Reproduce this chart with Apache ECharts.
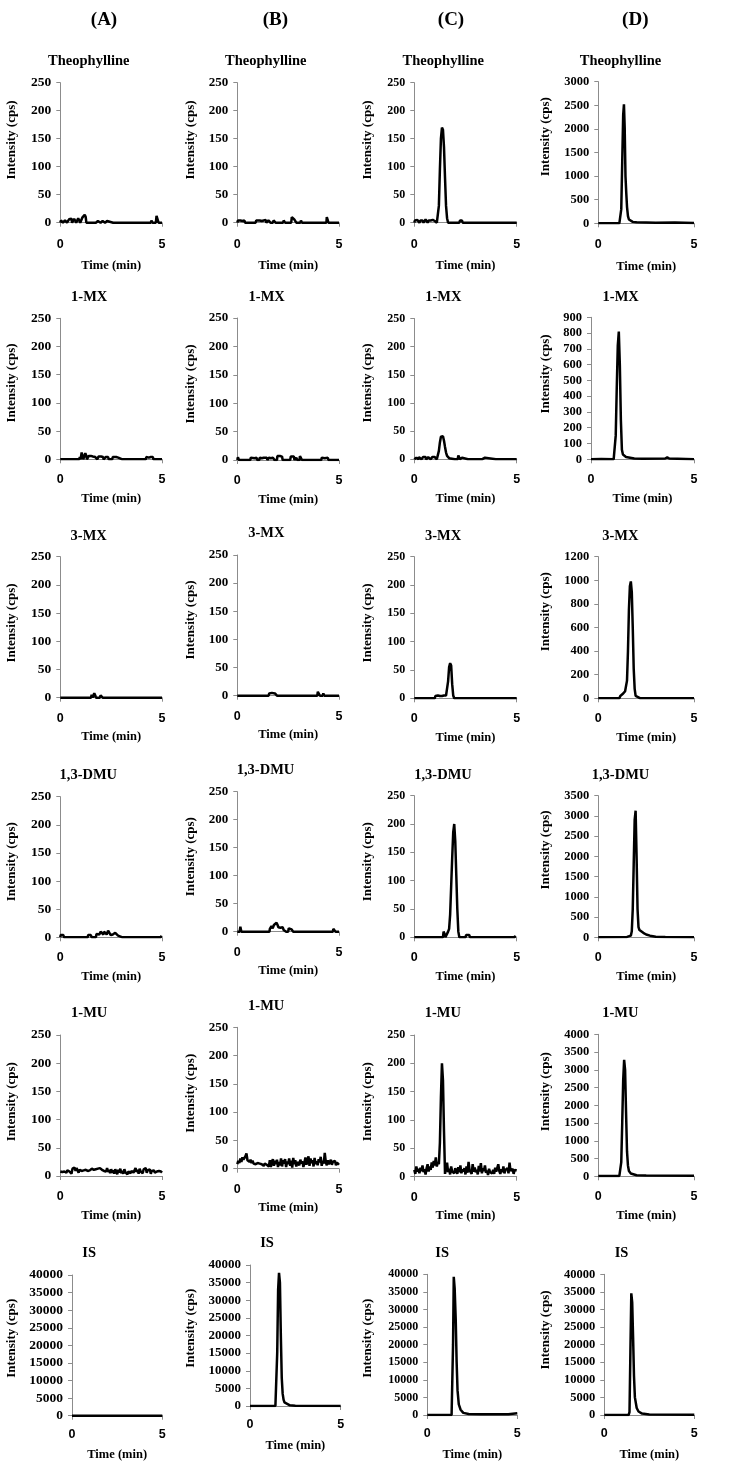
<!DOCTYPE html>
<html><head><meta charset="utf-8">
<script src="https://cdn.jsdelivr.net/npm/echarts/dist/echarts.min.js"></script>
<style>html,body{margin:0;padding:0;background:#fff}#c{width:735px;height:1472px}</style>
</head><body><div id="c"></div>
<script>
// ---------------- DATA ----------------
const COLUMN_LABELS = ['(A)', '(B)', '(C)', '(D)'];
const ROW_TITLES = ['Theophylline', '1-MX', '3-MX', '1,3-DMU', '1-MU', 'IS'];
const X_NAME = 'Time (min)';
const Y_NAME = 'Intensity (cps)';
const X_MIN = 0, X_MAX = 5, X_STEP = 5;
const Y_MAX = [
  [250, 250, 250, 3000],
  [250, 250, 250, 900],
  [250, 250, 250, 1200],
  [250, 250, 250, 3500],
  [250, 250, 250, 4000],
  [40000, 40000, 40000, 40000]
];
const Y_STEP = [
  [50, 50, 50, 500],
  [50, 50, 50, 100],
  [50, 50, 50, 200],
  [50, 50, 50, 500],
  [50, 50, 50, 500],
  [5000, 5000, 5000, 5000]
];

// Theophylline
const A_THEO = [[0,0],[0.03,4],[0.1,4],[0.13,0],[0.2,0],[0.23,4],[0.3,5],[0.33,0],[0.4,0],[0.43,6],[0.5,5],[0.55,7],[0.58,0],[0.65,0],[0.68,7],[0.75,6],[0.78,0],[0.85,0],[0.88,8],[0.95,6],[0.98,0],[1.05,0],[1.08,9],[1.15,12],[1.2,14],[1.25,10],[1.28,0],[1.75,0],[1.78,3],[1.85,3],[1.88,0],[1.98,0],[2.0,3],[2.08,3],[2.1,0],[2.2,0],[2.23,3],[2.3,3],[2.33,0],[2.6,0],[2.63,3],[2.7,0],[3.15,0],[3.18,3],[3.23,0],[3.7,0],[3.73,3],[3.78,0],[3.9,0],[3.93,3],[3.98,0],[4.12,0],[4.15,3],[4.2,0],[4.45,0],[4.48,4],[4.53,0],[4.7,0],[4.73,12],[4.8,9],[4.83,0],[5,0]];
const B_THEO = [[0,0],[0.03,4],[0.12,3],[0.15,4],[0.25,3],[0.35,4],[0.38,0],[0.9,0],[0.93,4],[1.1,4],[1.2,3],[1.3,4],[1.4,5],[1.43,0],[1.5,0],[1.53,4],[1.6,3],[1.63,0],[1.75,0],[1.78,4],[1.85,3],[1.88,0],[2.0,0],[2.03,3],[2.08,0],[2.25,0],[2.28,4],[2.35,0],[2.65,0],[2.68,10],[2.75,8],[2.8,6],[2.85,5],[2.9,0],[3.1,0],[3.13,4],[3.18,0],[3.45,0],[3.48,3],[3.53,0],[3.75,0],[3.78,3],[3.83,0],[4.38,0],[4.4,10],[4.45,4],[4.48,0],[5,0]];
const C_THEO = [[0,0],[0.03,4],[0.1,3],[0.15,5],[0.2,3],[0.25,0],[0.3,4],[0.4,4],[0.45,0],[0.5,3],[0.55,6],[0.6,5],[0.65,0],[0.7,4],[0.8,4],[0.85,3],[0.9,5],[0.95,4],[1.0,3],[1.05,4],[1.1,0],[1.15,2],[1.2,30],[1.25,95],[1.3,150],[1.35,170],[1.4,166],[1.45,135],[1.5,80],[1.55,30],[1.6,8],[1.65,0],[1.95,0],[1.98,3],[2.03,0],[2.2,0],[2.23,4],[2.33,4],[2.36,0],[3.42,0],[3.45,3],[3.5,0],[4.2,0],[4.23,3],[4.28,0],[4.68,0],[4.7,3],[4.75,0],[4.88,0],[4.9,3],[4.95,0],[5,0]];
const D_THEO = [[0,0],[1.1,0],[1.15,20],[1.2,300],[1.25,1300],[1.3,2300],[1.34,2520],[1.38,2000],[1.42,1000],[1.46,650],[1.5,350],[1.55,150],[1.6,80],[1.7,50],[1.8,30],[2.0,20],[2.5,15],[3.0,10],[4.0,15],[5,5]];

// 1-MX
const A_1MX = [[0,0],[0.23,0],[0.26,3],[0.31,0],[0.44,0],[0.47,3],[0.52,0],[0.6,0],[0.63,3],[0.68,0],[0.8,0],[0.83,3],[0.88,0],[0.93,0],[0.96,4],[1.0,0],[1.03,0],[1.05,12],[1.1,10],[1.13,0],[1.18,0],[1.2,3],[1.23,11],[1.28,6],[1.31,0],[1.38,0],[1.4,6],[1.45,4],[1.5,6],[1.55,8],[1.6,5],[1.67,6],[1.72,4],[1.78,6],[1.82,0],[1.86,0],[1.88,5],[1.95,4],[2.0,5],[2.1,4],[2.13,0],[2.2,0],[2.23,4],[2.3,3],[2.35,4],[2.38,0],[2.55,0],[2.58,4],[2.65,3],[2.75,4],[2.85,3],[2.9,4],[2.93,0],[3.05,0],[3.08,3],[3.13,0],[3.3,0],[3.33,3],[3.38,0],[3.48,0],[3.5,3],[3.55,0],[3.72,0],[3.75,3],[3.8,0],[4.2,0],[4.23,4],[4.35,3],[4.45,4],[4.55,4],[4.58,0],[5,0]];
const B_1MX = [[0,0],[0.03,5],[0.08,0],[0.64,0],[0.66,4],[0.75,4],[0.85,3],[0.95,4],[0.98,0],[1.08,0],[1.1,4],[1.2,3],[1.3,4],[1.45,4],[1.48,0],[1.52,0],[1.55,4],[1.65,3],[1.75,4],[1.8,3],[1.83,0],[1.95,0],[1.97,7],[2.1,7],[2.2,6],[2.23,0],[2.6,0],[2.63,6],[2.7,4],[2.78,6],[2.81,0],[2.88,0],[2.9,4],[2.95,0],[3.06,0],[3.08,7],[3.15,6],[3.18,0],[4.13,0],[4.15,4],[4.3,3],[4.45,4],[4.48,0],[5,0]];
const C_1MX = [[0,0],[0.03,3],[0.1,3],[0.13,0],[0.2,0],[0.23,4],[0.3,3],[0.35,0],[0.4,0],[0.43,4],[0.5,6],[0.55,4],[0.58,0],[0.65,0],[0.68,4],[0.75,3],[0.8,0],[0.85,0],[0.88,4],[0.95,3],[1.0,4],[1.05,3],[1.1,0],[1.15,3],[1.2,15],[1.25,30],[1.3,40],[1.35,43],[1.4,41],[1.45,33],[1.5,22],[1.55,12],[1.6,6],[1.65,3],[1.7,2],[1.75,0],[1.98,0],[2.0,3],[2.05,0],[2.12,0],[2.15,7],[2.2,4],[2.23,0],[2.3,0],[2.33,3],[2.38,0],[2.62,0],[2.65,3],[2.7,0],[3.02,0],[3.05,3],[3.1,0],[3.3,0],[3.33,3],[3.45,3],[3.5,0],[3.98,0],[4.0,3],[4.05,0],[4.45,0],[4.48,3],[4.53,0],[4.63,0],[4.65,3],[4.7,0],[4.85,0],[4.88,3],[4.93,0],[5,0]];
const D_1MX = [[0,0],[0.5,2],[1.1,0],[1.15,5],[1.2,150],[1.25,450],[1.3,720],[1.35,810],[1.4,600],[1.45,250],[1.5,60],[1.55,30],[1.6,20],[1.7,15],[1.9,10],[2.1,5],[2.5,3],[3.6,5],[3.7,12],[3.8,5],[5,0]];

// 3-MX
const A_3MX = [[0,0],[0.15,0],[0.18,3],[0.23,0],[1.18,0],[1.21,3],[1.26,0],[1.39,0],[1.42,3],[1.47,0],[1.51,0],[1.54,5],[1.59,0],[1.64,0],[1.67,8],[1.72,4],[1.75,0],[1.95,0],[1.98,4],[2.05,3],[2.08,0],[2.81,0],[2.84,3],[2.89,0],[3.09,0],[3.12,3],[3.17,0],[4.12,0],[4.15,3],[4.2,0],[5,0]];
const B_3MX = [[0,0],[1.33,0],[1.36,3],[1.41,0],[1.54,0],[1.57,4],[1.65,3],[1.7,5],[1.77,3],[1.85,4],[1.92,3],[1.95,0],[2.4,0],[2.43,3],[2.48,0],[3.63,0],[3.66,3],[3.71,0],[3.93,0],[3.96,7],[4.03,5],[4.06,0],[4.2,0],[4.23,4],[4.28,0],[4.77,0],[4.8,3],[4.85,0],[5,0]];
const C_3MX = [[0,0],[1.0,0],[1.03,4],[1.1,3],[1.15,5],[1.2,3],[1.25,4],[1.3,5],[1.35,4],[1.4,6],[1.45,5],[1.5,6],[1.55,5],[1.6,8],[1.65,30],[1.7,55],[1.75,62],[1.8,58],[1.85,25],[1.9,5],[1.95,0],[2.23,0],[2.26,3],[2.31,0],[2.69,0],[2.72,3],[2.77,0],[2.9,0],[2.93,3],[2.98,0],[4.32,0],[4.35,3],[4.4,0],[5,0]];
const D_3MX = [[0,0],[1.1,0],[1.15,20],[1.3,40],[1.4,60],[1.5,150],[1.55,400],[1.6,750],[1.65,950],[1.7,990],[1.75,900],[1.8,600],[1.85,250],[1.9,80],[1.95,20],[2.05,5],[2.2,0],[5,0]];

// 1,3-DMU
const A_DMU = [[0,0],[0.02,4],[0.1,3],[0.15,4],[0.18,0],[0.36,0],[0.39,3],[0.44,0],[1.35,0],[1.37,4],[1.5,4],[1.54,0],[1.75,0],[1.78,6],[1.85,8],[1.92,5],[1.98,10],[2.03,12],[2.07,9],[2.12,5],[2.15,10],[2.22,8],[2.28,5],[2.35,12],[2.42,9],[2.48,4],[2.52,7],[2.58,5],[2.65,3],[2.7,8],[2.78,6],[2.84,3],[2.88,0],[3.06,0],[3.09,3],[3.14,0],[3.87,0],[3.9,3],[3.95,0],[4.94,0],[4.97,3],[5,0]];
const B_DMU = [[0,0],[0.03,3],[0.08,0],[0.12,0],[0.15,9],[0.2,0],[0.92,0],[0.95,3],[1.0,0],[1.41,0],[1.44,3],[1.49,0],[1.58,0],[1.6,5],[1.68,10],[1.74,6],[1.8,12],[1.86,9],[1.93,16],[1.98,12],[2.02,8],[2.08,5],[2.12,7],[2.18,5],[2.23,8],[2.28,3],[2.35,4],[2.4,0],[2.5,0],[2.53,6],[2.6,5],[2.67,4],[2.72,3],[2.75,0],[3.8,0],[3.82,3],[3.87,0],[4.7,0],[4.72,5],[4.8,4],[4.83,0],[5,0]];
const C_DMU = [[0,0],[0.25,0],[0.28,3],[0.33,0],[0.57,0],[0.6,3],[0.65,0],[0.98,0],[1.01,3],[1.06,0],[1.14,0],[1.17,3],[1.22,0],[1.4,0],[1.43,10],[1.48,6],[1.52,0],[1.55,3],[1.6,3],[1.65,10],[1.7,15],[1.75,40],[1.8,90],[1.85,140],[1.9,185],[1.95,200],[2.0,170],[2.05,110],[2.1,50],[2.15,10],[2.2,0],[2.5,0],[2.53,4],[2.57,7],[2.62,4],[2.68,4],[2.72,0],[3.17,0],[3.2,3],[3.25,0],[3.83,0],[3.86,3],[3.91,0],[4.03,0],[4.06,3],[4.11,0],[4.2,0],[4.23,3],[4.28,0],[4.32,0],[4.35,3],[4.4,0],[4.9,0],[4.93,3],[4.98,0],[5,0]];
const D_DMU = [[0,0],[1.5,10],[1.7,40],[1.75,150],[1.8,700],[1.85,1800],[1.9,2900],[1.95,3130],[2.0,2000],[2.05,700],[2.1,250],[2.15,180],[2.2,200],[2.25,170],[2.35,110],[2.5,70],[2.7,40],[3.0,15],[3.5,5],[5,0]];

// 1-MU (dense noise, sampled every 0.05 min)
const T_GRID = [0,0.05,0.1,0.15,0.2,0.25,0.3,0.35,0.4,0.45,0.5,0.55,0.6,0.65,0.7,0.75,0.8,0.85,0.9,0.95,1,1.05,1.1,1.15,1.2,1.25,1.3,1.35,1.4,1.45,1.5,1.55,1.6,1.65,1.7,1.75,1.8,1.85,1.9,1.95,2,2.05,2.1,2.15,2.2,2.25,2.3,2.35,2.4,2.45,2.5,2.55,2.6,2.65,2.7,2.75,2.8,2.85,2.9,2.95,3,3.05,3.1,3.15,3.2,3.25,3.3,3.35,3.4,3.45,3.5,3.55,3.6,3.65,3.7,3.75,3.8,3.85,3.9,3.95,4,4.05,4.1,4.15,4.2,4.25,4.3,4.35,4.4,4.45,4.5,4.55,4.6,4.65,4.7,4.75,4.8,4.85,4.9,4.95,5];
const A_1MU = [8,9,7,10,8,9,6,10,9,8,11, 4,13,10,15,9,14,12,6,11,10, 9,8,10,9,11,10,9,12,10,11, 13,15,11,14,12,15,13,10,14,12, 11,13,9,12,8,14,7,11,5,12, 6,10,4,12,8,3,11,6,13,5, 9,4,12,7,10,3,8,11,5,9, 12,6,10,14,7,11,4,13,8,10, 5,12,9,14,6,10,8,12,4,9, 7,10,6,9,8,5,9,7,8,6];
const B_1MU = [8,14,10,18,12,20,16,14,22,27,15, 18,12,16,10,14,9,12,8,11,10, 7,9,6,8,10,5,9,12,7,10, 4,15,3,12,17,5,14,8,16,3, 12,6,18,4,15,9,17,3,13,8, 18,5,14,2,19,8,15,4,12,10, 6,16,9,13,3,11,20,7,14,22, 5,18,10,15,4,19,8,13,6,17, 11,21,5,14,9,28,12,6,15,8, 10,16,7,12,9,14,6,11,8,7];
const C_1MU = [12,5,18,9,14,6,16,10,20,8,13, 4,15,22,9,18,12,25,16,28,20, 34,18,26,22,60,140,200,170,80,5, 3,25,8,14,4,18,9,12,6,15, 10,5,17,8,20,6,13,9,15,4, 18,7,26,11,14,5,22,9,16,8, 12,4,19,9,24,6,15,10,20,7, 11,3,14,8,10,6,12,5,16,9, 7,22,10,5,13,8,18,6,12,9, 15,6,25,10,8,14,5,12,9,11];
const D_1MU = [[0,10],[1.1,10],[1.15,40],[1.2,400],[1.25,1500],[1.3,2700],[1.35,3280],[1.4,3000],[1.45,1800],[1.5,700],[1.55,300],[1.6,150],[1.7,80],[1.8,50],[2.0,30],[2.5,20],[5,15]];

// IS
const A_IS = [[0,0],[5,0]];
const B_IS = [[0,0],[1.4,0],[1.45,500],[1.5,15000],[1.55,33000],[1.6,37800],[1.65,35000],[1.7,20000],[1.75,8000],[1.8,3500],[1.85,1800],[1.9,1000],[2.0,500],[2.2,200],[2.5,100],[5,0]];
const C_IS = [[0,0],[1.35,0],[1.4,500],[1.43,20000],[1.47,39300],[1.52,36000],[1.58,27000],[1.63,15000],[1.68,7000],[1.75,3000],[1.85,1500],[2.0,600],[2.3,300],[3,200],[4.5,200],[5,500]];
const D_IS = [[0,0],[1.35,0],[1.4,800],[1.45,18000],[1.5,34600],[1.55,32000],[1.6,22000],[1.65,11000],[1.7,5000],[1.8,2000],[1.9,1000],[2.1,400],[2.5,150],[5,100]];

// ---------------- LAYOUT (pixels) ----------------
const GRID = [
  [[60.3,82.7,101.7,140],[237.3,82.7,101.7,140],[414.3,82.7,102.4,140],[598.3,81.7,95.7,141.6]],
  [[60.3,318.3,101.7,141],[237.3,318,101.7,142],[414.3,318.5,102.4,140.8],[591,317.3,103,142]],
  [[60.3,556.7,101.7,141],[237.3,555,101.7,140.7],[414.3,556.7,102.4,141.6],[598.3,556.7,95.7,141.6]],
  [[60.3,796.7,101.7,140.6],[237.3,791.7,101.7,140],[414.3,795.7,102.4,141.6],[598.3,795.7,95.7,141.6]],
  [[60.3,1035,101.7,141],[237.3,1027.3,101.7,141.4],[414.3,1035,102.4,141.7],[598.3,1034.3,95.7,142]],
  [[72,1275,90.3,140.7],[250,1265,90.7,141],[427.3,1274.3,90,140.7],[604.3,1274.3,90,140.7]]
];
const TITLE_POS = [
  [[88.8,61],[265.8,61],[443.3,61],[620.5,61]],
  [[89.2,297],[266.7,297],[443.3,297],[620.7,297]],
  [[88.7,536.7],[266.3,533],[443,536.7],[620.3,536.7]],
  [[88.3,775],[265.5,770],[443,775],[620.5,775]],
  [[89.2,1013.3],[266.2,1006],[442.8,1013.3],[620.3,1013.3]],
  [[89.2,1253.3],[267,1243.3],[442.2,1253.3],[621.5,1253.3]]
];
const HEADER_POS = [[104,20],[275.3,20],[451,20],[635.3,20]];
const YNAME_X = [12, 191, 368, 546];
const YNAME_Y = [
  [140,140,140,136.7],
  [383,384,383,374],
  [623,620,623,611.7],
  [861.7,856.7,861.7,850],
  [1101.7,1093.3,1101.7,1091.7],
  [1338.3,1328.3,1338.3,1330]
];
const LABEL_FS = [13.5, 13, 12, 12.5];
const XLABEL_MARGIN = [15, 14, 14, 14, 14, 12];
const XNAME_GAP = [37, 33, 33, 33, 33, 33];

// ---------------- BUILD ----------------
const zip = (t, v) => t.map((x, i) => [x, v[i]]);
const PANELS = [
  [A_THEO, B_THEO, C_THEO, D_THEO],
  [A_1MX, B_1MX, C_1MX, D_1MX],
  [A_3MX, B_3MX, C_3MX, D_3MX],
  [A_DMU, B_DMU, C_DMU, D_DMU],
  [zip(T_GRID, A_1MU), zip(T_GRID, B_1MU), zip(T_GRID, C_1MU), D_1MU],
  [A_IS, B_IS, C_IS, D_IS]
];

const SERIF = '"Liberation Serif", "Times New Roman", serif';
const SANS = '"Liberation Sans", Arial, sans-serif';
const AX = '#8c8c8c';
const grids = [], xAxes = [], yAxes = [], series = [], graphics = [];

HEADER_POS.forEach((p, c) => {
  graphics.push({type:'text', x:p[0], y:p[1], silent:true,
    style:{text:COLUMN_LABELS[c], font:'bold 19px ' + SERIF, fill:'#000', align:'center', verticalAlign:'middle'}});
});

for (let r = 0; r < 6; r++) {
  for (let c = 0; c < 4; c++) {
    const i = r * 4 + c;
    const g = GRID[r][c];
    const fs = (r === 5 && c === 0) ? 13.5 : LABEL_FS[c];
    grids.push({left:g[0], top:g[1], width:g[2], height:g[3]});
    xAxes.push({
      type:'value', gridIndex:i, min:X_MIN, max:X_MAX, interval:X_STEP,
      axisLine:{show:true, onZero:false, lineStyle:{color:AX, width:1}},
      axisTick:{show:true, length:4, lineStyle:{color:AX}},
      splitLine:{show:false},
      axisLabel:{margin:XLABEL_MARGIN[r], fontFamily:SANS, fontWeight:'bold', fontSize:12.5, color:'#000'},
      name:X_NAME, nameLocation:'middle', nameGap:XNAME_GAP[r],
      nameTextStyle:{fontFamily:SERIF, fontWeight:'bold', fontSize:12.5, color:'#000'}
    });
    yAxes.push({
      type:'value', gridIndex:i, min:0, max:Y_MAX[r][c], interval:Y_STEP[r][c],
      axisLine:{show:true, lineStyle:{color:AX, width:1}},
      axisTick:{show:true, length:4, lineStyle:{color:AX}},
      splitLine:{show:false},
      axisLabel:{margin:9, fontFamily:SERIF, fontWeight:'bold', fontSize:fs, color:'#000',
        formatter: v => String(v)}
    });
    series.push({
      type:'line', xAxisIndex:i, yAxisIndex:i, data:PANELS[r][c],
      showSymbol:false, symbol:'none', silent:true, animation:false,
      lineStyle:{color:'#000', width:2.5}
    });
    const tp = TITLE_POS[r][c];
    graphics.push({type:'text', x:tp[0], y:tp[1], silent:true,
      style:{text:ROW_TITLES[r], font:'bold 14.5px ' + SERIF, fill:'#000', align:'center', verticalAlign:'middle'}});
    graphics.push({type:'text', x:YNAME_X[c], y:YNAME_Y[r][c], rotation:Math.PI / 2, silent:true,
      style:{text:Y_NAME, font:'bold 13px ' + SERIF, fill:'#000', align:'center', verticalAlign:'middle'}});
  }
}

const chart = echarts.init(document.getElementById('c'), null, {renderer:'canvas'});
chart.setOption({
  animation:false,
  backgroundColor:'#fff',
  grid:grids, xAxis:xAxes, yAxis:yAxes, series:series, graphic:graphics
});
</script></body></html>
